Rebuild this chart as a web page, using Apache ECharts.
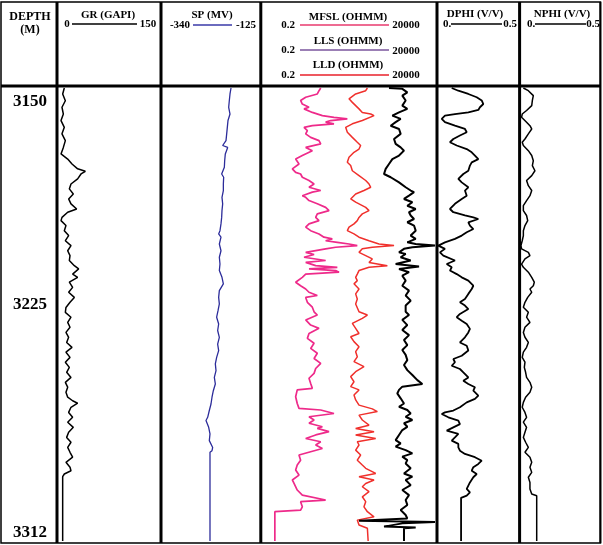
<!DOCTYPE html>
<html>
<head>
<meta charset="utf-8">
<style>
html, body { margin: 0; padding: 0; background: #fff; }
#main { width: 603px; height: 545px; }
</style>
<script src="https://cdn.jsdelivr.net/npm/echarts@6/dist/echarts.min.js"></script>
</head>
<body>
<div id="main"></div>
<script>
'use strict';
(function() {
    // depth range and the depth labels
    var depthMin = 3145, depthMax = 3312;
    var depthLabels = [3150, 3225, 3312];

    // [depth (m), GR (GAPI)]
    var grLog = [
        [3145.0, 9.2], [3147.2, 6.8], [3149.7, 10.7], [3152.1, 5.8], [3154.6, 7.8], [3157.0, 4.4], [3159.5, 9.2], [3161.9, 5.8],
        [3164.4, 10.7], [3166.9, 7.8], [3169.3, 4.4], [3171.2, 14.1], [3173.0, 20.4], [3174.8, 28.6], [3175.7, 39.8], [3176.7, 33.5],
        [3178.5, 28.6], [3180.4, 18.9], [3182.2, 16.5], [3184.1, 22.3], [3185.9, 15.5], [3187.7, 18.9], [3189.6, 27.2], [3190.8, 14.1],
        [3192.7, 5.8], [3193.9, 4.4], [3195.7, 11.6], [3197.6, 9.2], [3199.4, 15.5], [3201.3, 10.7], [3203.1, 18.9], [3205.0, 14.1],
        [3206.8, 17.5], [3208.6, 16.5], [3210.5, 23.8], [3211.7, 30.1], [3213.6, 21.3], [3214.8, 28.6], [3216.6, 16.5], [3218.5, 21.3],
        [3220.3, 15.5], [3222.2, 23.8], [3224.0, 17.5], [3225.9, 11.6], [3227.7, 10.7], [3229.5, 18.9], [3231.4, 14.1], [3233.2, 17.5],
        [3235.1, 11.6], [3236.9, 15.5], [3238.8, 12.6], [3240.6, 20.4], [3242.4, 11.6], [3244.3, 17.5], [3246.1, 10.7], [3248.0, 16.5],
        [3249.8, 12.6], [3251.7, 18.9], [3253.5, 10.7], [3255.3, 14.1], [3257.2, 11.6], [3259.0, 14.1], [3260.3, 21.3], [3261.2, 28.6],
        [3262.7, 18.9], [3264.6, 15.5], [3266.4, 21.3], [3268.2, 14.1], [3270.1, 22.3], [3271.9, 15.5], [3273.8, 12.6], [3275.6, 18.9],
        [3277.5, 14.1], [3279.3, 17.5], [3281.1, 21.3], [3283.0, 11.6], [3284.8, 17.5], [3286.1, 18.9], [3287.3, 9.2], [3288.3, 6.8],
        [3312, 6.8]
    ];

    // [depth, SP (MV)]
    var spLog = [
        [3145.0, -188.6], [3147.2, -190.8], [3149.6, -192.3], [3152.1, -193.7], [3154.6, -190.8], [3157.0, -195.2], [3159.5, -196.7],
        [3161.9, -198.1], [3164.4, -199.6], [3166.2, -206.9], [3166.9, -195.9], [3169.3, -201.1], [3171.8, -202.5], [3174.2, -203.2],
        [3176.7, -209.1], [3177.9, -204.7], [3180.4, -205.4], [3182.8, -205.4], [3185.3, -208.4], [3187.7, -206.9], [3190.2, -208.4],
        [3192.7, -209.1], [3195.1, -210.6], [3197.6, -212.8], [3198.8, -215.7], [3200.0, -210.6], [3202.5, -214.2], [3205.0, -210.6],
        [3207.4, -214.2], [3209.9, -212.8], [3212.3, -214.2], [3214.8, -208.4], [3217.2, -205.4], [3219.7, -214.2], [3222.2, -215.7],
        [3224.6, -214.2], [3227.1, -217.1], [3229.5, -220.1], [3232.0, -215.7], [3234.4, -217.9], [3236.9, -214.2], [3239.4, -217.9],
        [3241.8, -215.7], [3244.3, -220.1], [3246.7, -223.0], [3249.2, -221.5], [3251.7, -225.2], [3254.1, -223.0], [3256.6, -227.4],
        [3259.0, -230.3], [3261.5, -232.5], [3263.9, -236.2], [3266.4, -239.8], [3267.6, -243.5], [3270.1, -237.6], [3272.5, -234.7],
        [3275.0, -236.2], [3277.5, -228.8], [3278.7, -230.3], [3279.3, -234.7], [3312, -234.7]
    ];

    // [depth, MFSL (OHMM)]
    var mfslLog = [
        [3145.0, 10.4], [3146.0, 9.3], [3147.2, 8.3], [3148.4, 3.85], [3149.6, 2.75], [3150.9, 3.08], [3152.1, 4.79], [3152.7, 3.45],
        [3154.0, 5.97], [3155.2, 11.6], [3155.8, 25.0], [3156.4, 60.5], [3157.0, 20.1], [3157.6, 14.4], [3158.2, 25.0], [3158.9, 5.97],
        [3159.5, 3.45], [3160.7, 4.3], [3161.9, 3.85], [3163.2, 5.35], [3164.4, 9.28], [3165.6, 10.4], [3166.9, 3.85], [3168.1, 5.97],
        [3169.9, 3.08], [3171.2, 1.98], [3173.0, 2.47], [3174.8, 1.59], [3176.1, 1.98], [3176.7, 2.75], [3177.9, 3.08], [3179.1, 4.79],
        [3180.4, 6.7], [3181.6, 4.79], [3182.8, 10.4], [3183.4, 5.97], [3184.7, 3.08], [3185.3, 3.85], [3186.5, 4.79], [3187.7, 8.3],
        [3189.0, 14.4], [3190.2, 18.0], [3191.4, 8.3], [3192.7, 7.45], [3193.9, 9.28], [3195.1, 4.79], [3196.3, 3.85], [3197.6, 5.35],
        [3198.8, 9.28], [3200.0, 12.9], [3200.6, 22.4], [3201.3, 14.4], [3201.9, 31.2], [3202.5, 67.6], [3203.1, 117], [3203.7, 28.0],
        [3204.3, 14.4], [3205.6, 3.85], [3206.4, 6.7], [3207.4, 3.45], [3208.6, 14.4], [3209.3, 3.85], [3210.5, 7.45], [3211.1, 31.2],
        [3211.7, 4.79], [3212.3, 28.0], [3212.9, 34.9], [3213.6, 3.85], [3214.8, 3.08], [3216.6, 1.98], [3217.9, 2.75], [3219.1, 3.85],
        [3220.3, 4.79], [3221.5, 8.3], [3222.2, 3.85], [3224.0, 4.3], [3225.8, 5.97], [3227.5, 6.7], [3228.7, 8.3], [3230.5, 3.85],
        [3232.4, 5.35], [3233.6, 9.28], [3235.5, 4.79], [3237.3, 4.3], [3239.1, 6.7], [3241.0, 5.35], [3242.8, 8.3], [3244.7, 6.7],
        [3246.5, 10.4], [3248.4, 7.45], [3250.2, 6.7], [3252.0, 4.79], [3253.9, 5.35], [3255.7, 5.97], [3256.3, 2.2], [3258.8, 1.98],
        [3261.3, 2.2], [3263.1, 2.47], [3263.7, 10.4], [3265.0, 25.0], [3266.2, 4.79], [3267.4, 6.7], [3268.6, 4.79], [3269.9, 11.6],
        [3270.5, 8.3], [3271.7, 18.0], [3272.9, 7.45], [3274.2, 3.85], [3275.4, 10.4], [3276.6, 7.45], [3277.9, 11.6], [3279.1, 5.35],
        [3280.3, 2.47], [3282.2, 2.75], [3284.0, 2.2], [3285.8, 1.98], [3287.7, 2.47], [3289.5, 1.59], [3290.8, 1.78], [3293.2, 2.2],
        [3295.1, 3.08], [3296.9, 14.4], [3297.5, 2.75], [3299.4, 3.08], [3300.6, 2.75], [3301.2, 0.5], [3312, 0.5]
    ];

    // [depth, LLD (OHMM)]
    var lldLog = [
        [3145.0, 228], [3146.0, 204], [3147.2, 105], [3149.0, 67.6], [3150.3, 84.3], [3151.5, 105], [3152.7, 131], [3154.0, 163],
        [3154.6, 284], [3155.2, 354], [3155.8, 316], [3157.0, 163], [3158.2, 84.3], [3159.5, 54.2], [3161.3, 60.5], [3163.2, 84.3],
        [3165.0, 117], [3166.2, 146], [3167.5, 131], [3168.7, 94], [3170.5, 67.6], [3172.4, 60.5], [3173.6, 75.5], [3175.5, 84.3],
        [3177.3, 131], [3179.1, 204], [3180.4, 254], [3181.6, 284], [3182.8, 182], [3184.1, 105], [3185.9, 75.5], [3187.1, 105],
        [3189.0, 204], [3190.2, 254], [3191.4, 163], [3192.7, 131], [3193.9, 117], [3195.1, 94], [3196.3, 67.6], [3197.6, 60.5],
        [3198.8, 94], [3200.0, 131], [3201.3, 254], [3202.5, 492], [3203.1, 1330], [3203.7, 316], [3204.3, 163], [3205.6, 131],
        [3206.8, 204], [3208.0, 316], [3209.3, 254], [3210.5, 855], [3211.1, 254], [3212.3, 131], [3213.6, 117], [3214.8, 105],
        [3216.0, 117], [3217.2, 94], [3219.1, 131], [3220.9, 105], [3222.8, 117], [3224.6, 105], [3227.5, 131], [3228.7, 228],
        [3229.9, 163], [3231.8, 84.3], [3233.6, 105], [3235.5, 131], [3236.7, 75.5], [3238.5, 94], [3240.4, 131], [3242.2, 105],
        [3244.1, 117], [3245.9, 94], [3247.7, 182], [3249.6, 105], [3251.4, 75.5], [3253.3, 94], [3255.1, 75.5], [3256.3, 131],
        [3258.2, 94], [3260.0, 105], [3261.9, 131], [3263.3, 316], [3264.3, 441], [3265.6, 131], [3267.4, 163], [3269.3, 254],
        [3270.5, 105], [3271.7, 354], [3272.9, 105], [3274.2, 395], [3275.4, 117], [3276.6, 131], [3278.5, 105], [3280.3, 146],
        [3282.2, 117], [3284.0, 163], [3285.2, 204], [3287.1, 395], [3288.3, 131], [3289.5, 354], [3290.8, 204], [3292.0, 163],
        [3293.8, 254], [3295.7, 163], [3297.5, 204], [3299.4, 182], [3301.2, 228], [3303.1, 354], [3304.3, 117], [3306.1, 131],
        [3307.3, 228], [3308.0, 240], [3312, 240]
    ];

    // [depth, LLS (OHMM)]
    var llsLog = [
        [3145.0, 953], [3145.3, 2300], [3146.6, 3200], [3147.8, 2300], [3149.6, 2870], [3151.5, 2300], [3152.7, 3200], [3154.0, 1850],
        [3155.2, 1190], [3156.4, 2060], [3157.6, 1480], [3158.9, 1065], [3160.1, 1850], [3161.9, 2060], [3163.8, 1330], [3165.6, 1480],
        [3166.9, 2060], [3168.1, 2570], [3169.9, 1850], [3171.2, 1190], [3173.0, 953], [3174.8, 765], [3176.7, 686], [3177.9, 1065],
        [3179.8, 1850], [3181.6, 2870], [3182.8, 4000], [3183.4, 4990], [3184.7, 3580], [3185.9, 2570], [3187.1, 4470], [3188.4, 3200],
        [3189.6, 5570], [3190.8, 3580], [3192.0, 4000], [3193.3, 4990], [3194.5, 3200], [3195.7, 4990], [3197.6, 5570], [3199.4, 4000],
        [3200.6, 5570], [3201.9, 3200], [3202.5, 5570], [3203.1, 20000], [3203.7, 4470], [3204.3, 2570], [3205.6, 1850], [3206.2, 2870],
        [3207.4, 2060], [3208.6, 4000], [3209.9, 1480], [3210.8, 6950], [3211.7, 1850], [3212.9, 3580], [3214.2, 2300], [3216.0, 2870],
        [3217.9, 2300], [3219.7, 3580], [3221.5, 2870], [3223.4, 4000], [3225.2, 2870], [3227.5, 2870], [3228.7, 3580], [3230.5, 2300],
        [3232.4, 3200], [3234.2, 2300], [3236.1, 3580], [3237.9, 2570], [3239.8, 3200], [3241.6, 2300], [3243.4, 2870], [3245.3, 3200],
        [3247.1, 2570], [3249.0, 3200], [3250.8, 4470], [3252.7, 6220], [3254.1, 8660], [3255.1, 2300], [3256.3, 1850], [3257.6, 1650],
        [3259.4, 2060], [3261.3, 2570], [3262.5, 1850], [3263.7, 3200], [3265.0, 4000], [3266.2, 2870], [3267.4, 4470], [3268.6, 2570],
        [3269.9, 3200], [3271.1, 2300], [3272.9, 1850], [3274.8, 1480], [3276.0, 2060], [3277.2, 1480], [3278.5, 2870], [3279.7, 4470],
        [3280.9, 2300], [3282.2, 3200], [3283.4, 2870], [3285.2, 4000], [3287.1, 2570], [3288.3, 4470], [3289.5, 2870], [3291.4, 4000],
        [3293.2, 2300], [3295.1, 3580], [3296.9, 2870], [3298.7, 3200], [3300.6, 2060], [3302.4, 2870], [3303.7, 3200], [3304.5, 131],
        [3305.0, 20000], [3305.5, 2300], [3306.7, 686], [3307.0, 5570], [3307.3, 2570], [3312, 2570]
    ];

    // [depth, DPHI (V/V)]
    var dphiLog = [
        [3145.0, 0.087], [3146.0, 0.128], [3147.2, 0.190], [3148.4, 0.242], [3149.6, 0.273], [3150.9, 0.283], [3152.1, 0.262],
        [3153.1, 0.252], [3154.0, 0.190], [3154.6, 0.107], [3155.2, 0.045], [3156.4, 0.025], [3157.6, 0.045], [3158.9, 0.107],
        [3160.1, 0.169], [3161.3, 0.180], [3162.5, 0.138], [3163.8, 0.097], [3165.0, 0.076], [3166.2, 0.118], [3167.5, 0.180],
        [3168.7, 0.211], [3169.9, 0.231], [3171.2, 0.252], [3172.4, 0.211], [3173.6, 0.200], [3175.5, 0.190], [3176.7, 0.159],
        [3178.5, 0.128], [3179.8, 0.149], [3181.6, 0.190], [3182.8, 0.169], [3184.7, 0.180], [3185.9, 0.149], [3187.7, 0.107],
        [3189.6, 0.076], [3190.8, 0.097], [3192.0, 0.169], [3192.7, 0.221], [3193.3, 0.252], [3194.5, 0.190], [3195.7, 0.200],
        [3197.0, 0.221], [3198.2, 0.180], [3199.4, 0.149], [3200.6, 0.107], [3201.9, 0.045], [3203.1, 0.004], [3203.7, 0.0],
        [3204.3, 0.045], [3205.6, 0.014], [3206.8, 0.035], [3208.6, 0.107], [3209.9, 0.056], [3211.1, 0.087], [3212.3, 0.076],
        [3213.6, 0.118], [3214.8, 0.149], [3216.0, 0.190], [3217.9, 0.221], [3219.1, 0.211], [3220.9, 0.190], [3222.8, 0.169],
        [3224.0, 0.138], [3225.2, 0.169], [3226.5, 0.190], [3228.3, 0.138], [3229.5, 0.118], [3230.8, 0.149], [3232.0, 0.180],
        [3233.8, 0.200], [3235.1, 0.190], [3236.9, 0.169], [3238.8, 0.138], [3240.0, 0.180], [3241.8, 0.190], [3243.7, 0.149],
        [3244.9, 0.097], [3246.1, 0.107], [3247.4, 0.087], [3248.6, 0.138], [3249.8, 0.159], [3251.7, 0.190], [3252.9, 0.159],
        [3254.1, 0.190], [3255.3, 0.231], [3256.6, 0.221], [3258.4, 0.252], [3259.6, 0.231], [3260.9, 0.180], [3262.7, 0.138],
        [3263.9, 0.097], [3264.6, 0.045], [3265.2, 0.025], [3266.4, 0.066], [3267.6, 0.128], [3268.9, 0.138], [3270.1, 0.097],
        [3271.3, 0.056], [3272.5, 0.128], [3273.8, 0.107], [3275.0, 0.087], [3276.2, 0.128], [3277.5, 0.128], [3278.7, 0.138],
        [3279.9, 0.169], [3281.1, 0.231], [3282.4, 0.273], [3283.6, 0.252], [3284.8, 0.221], [3286.1, 0.211], [3287.3, 0.242],
        [3288.5, 0.221], [3290.4, 0.200], [3291.6, 0.190], [3292.8, 0.180], [3294.1, 0.200], [3295.3, 0.180], [3296.1, 0.145],
        [3312, 0.145]
    ];

    // [depth, NPHI (V/V)]
    var nphiLog = [
        [3145.0, 0.019], [3146.0, 0.050], [3147.8, 0.081], [3149.6, 0.075], [3151.5, 0.071], [3153.3, 0.039], [3154.6, 0.012],
        [3155.8, 0.008], [3157.6, 0.039], [3158.9, 0.060], [3160.1, 0.071], [3161.9, 0.050], [3163.8, 0.029], [3165.0, 0.012],
        [3166.2, 0.019], [3168.1, 0.050], [3169.9, 0.071], [3171.8, 0.081], [3173.6, 0.075], [3175.5, 0.091], [3177.3, 0.071],
        [3179.1, 0.039], [3181.0, 0.050], [3182.8, 0.071], [3184.7, 0.060], [3186.5, 0.039], [3188.4, 0.019], [3190.2, 0.019],
        [3192.0, 0.039], [3193.9, 0.046], [3195.7, 0.029], [3197.6, 0.019], [3199.4, 0.019], [3201.3, 0.012], [3203.1, 0.004],
        [3204.3, 0.008], [3205.6, 0.050], [3206.8, 0.060], [3208.0, 0.029], [3209.9, 0.008], [3211.1, 0.019], [3212.9, 0.050],
        [3214.8, 0.071], [3216.6, 0.087], [3217.9, 0.081], [3219.1, 0.060], [3220.3, 0.071], [3222.2, 0.046], [3224.0, 0.029],
        [3225.8, 0.019], [3227.7, 0.050], [3229.5, 0.039], [3231.4, 0.060], [3233.2, 0.029], [3235.1, 0.019], [3236.9, 0.029],
        [3238.8, 0.050], [3240.6, 0.039], [3242.4, 0.019], [3244.3, 0.012], [3246.1, 0.029], [3248.0, 0.025], [3249.8, 0.033],
        [3251.7, 0.039], [3253.5, 0.060], [3255.3, 0.071], [3257.2, 0.060], [3259.0, 0.033], [3260.9, 0.019], [3262.7, 0.012],
        [3264.6, 0.029], [3266.4, 0.039], [3268.2, 0.019], [3270.1, 0.039], [3271.9, 0.029], [3273.8, 0.019], [3275.6, 0.033],
        [3277.5, 0.050], [3279.3, 0.029], [3281.1, 0.060], [3283.0, 0.071], [3284.8, 0.060], [3286.7, 0.071], [3288.5, 0.050],
        [3290.4, 0.060], [3292.8, 0.060], [3294.7, 0.071], [3295.3, 0.102], [3312, 0.102]
    ];

    var serif = '"Liberation Serif", "Times New Roman", serif';
    var top = 88, bottom = 4;

    // track layout: left edge, width
    var tracks = [
        { left: 58, width: 103 },     // GR
        { left: 162, width: 98 },     // SP
        { left: 261, width: 174 },    // resistivity
        { left: 437.7, width: 80.6 }, // DPHI
        { left: 520.3, width: 80.4 }  // NPHI
    ];

    var grids = tracks.map(function(t) {
        return { left: t.left, width: t.width, top: top, bottom: bottom, containLabel: false };
    });

    var xAxes = [
        { gridIndex: 0, type: 'value', min: 0, max: 150, show: false },
        { gridIndex: 1, type: 'value', min: -340, max: -125, show: false },
        { gridIndex: 2, type: 'log', logBase: 10, min: 0.2, max: 20000, show: false },
        { gridIndex: 3, type: 'value', min: 0, max: 0.5, show: false },
        { gridIndex: 4, type: 'value', min: 0, max: 0.5, show: false }
    ];

    var yAxes = tracks.map(function(t, i) {
        var ax = {
            gridIndex: i, type: 'value', inverse: true, min: depthMin, max: depthMax,
            show: i === 0,
            axisLine: { show: false },
            axisTick: { show: false },
            splitLine: { show: false }
        };
        if (i === 0) {
            // depth numbers sit in the depth column, left of the GR track
            ax.axisLabel = {
                customValues: depthLabels,
                formatter: function(v) { return String(v); },
                margin: 11,
                color: '#000',
                fontFamily: serif,
                fontWeight: 'bold',
                fontSize: 17,
                verticalAlignMaxLabel: 'bottom'
            };
        }
        return ax;
    });

    function curve(name, log, idx, color, width) {
        return {
            name: name,
            type: 'line',
            xAxisIndex: idx,
            yAxisIndex: idx,
            showSymbol: false,
            symbol: 'none',
            clip: true,
            lineStyle: { color: color, width: width },
            data: log.map(function(p) { return [p[1], p[0]]; })
        };
    }

    // header: frame lines, titles and scale bars
    var graphic = [];
    function line(x1, y1, x2, y2, color, w) {
        graphic.push({ type: 'line', z: 100, shape: { x1: x1, y1: y1, x2: x2, y2: y2 }, style: { stroke: color, lineWidth: w } });
    }
    function text(str, x, y, size) {
        graphic.push({
            type: 'text', z: 100, x: x, y: y,
            style: { text: str, fill: '#000', font: 'bold ' + (size || 11) + 'px ' + serif, align: 'center', verticalAlign: 'middle' }
        });
    }

    graphic.push({ type: 'rect', z: 100, shape: { x: 1, y: 2, width: 599.5, height: 541 }, style: { fill: 'none', stroke: '#000', lineWidth: 1.5 } });
    line(1, 86, 601, 86, '#000', 3);
    [57, 161, 260.8, 437, 519.6].forEach(function(x) { line(x, 2, x, 543, '#000', 3); });
    line(600.3, 2, 600.3, 543, '#000', 2);

    text('DEPTH', 30, 17, 12);
    text('(M)', 30, 30, 12);

    text('GR (GAPI)', 108, 15);
    text('0', 67, 24);
    line(72, 24, 137, 24, '#000', 1.5);
    text('150', 148, 24);

    text('SP (MV)', 212, 15);
    text('-340', 180, 25);
    line(193, 25, 232, 25, '#3a3aa8', 1.5);
    text('-125', 246, 25);

    text('MFSL (OHMM)', 348, 17);
    text('0.2', 288, 25);
    line(300, 25, 389, 25, '#e83a6e', 1.5);
    text('20000', 406, 25);
    text('LLS (OHMM)', 348, 41);
    text('0.2', 288, 50);
    line(300, 50, 389, 50, '#7a559c', 1.5);
    text('20000', 406, 51);
    text('LLD (OHMM)', 348, 65);
    text('0.2', 288, 75);
    line(300, 75, 389, 75, '#e8202a', 1.5);
    text('20000', 406, 75);

    text('DPHI (V/V)', 475, 14);
    text('0.', 447, 24);
    line(451, 24, 502, 24, '#000', 1.5);
    text('0.5', 510, 24);

    text('NPHI (V/V)', 562, 14);
    text('0.', 531, 24);
    line(535, 24, 586, 24, '#000', 1.5);
    text('0.5', 593, 24);

    var myChart = echarts.init(document.getElementById('main'));
    var option = {
        animation: false,
        backgroundColor: '#fff',
        grid: grids,
        xAxis: xAxes,
        yAxis: yAxes,
        graphic: graphic,
        series: [
            curve('GR', grLog, 0, '#000', 1.5),
            curve('SP', spLog, 1, '#2c2c9a', 1.3),
            curve('MFSL', mfslLog, 2, '#ee2a8a', 1.7),
            curve('LLD', lldLog, 2, '#f0302c', 1.5),
            curve('LLS', llsLog, 2, '#000', 2),
            curve('DPHI', dphiLog, 3, '#000', 1.8),
            curve('NPHI', nphiLog, 4, '#000', 1.5)
        ]
    };
    myChart.setOption(option);
})();
</script>
</body>
</html>
